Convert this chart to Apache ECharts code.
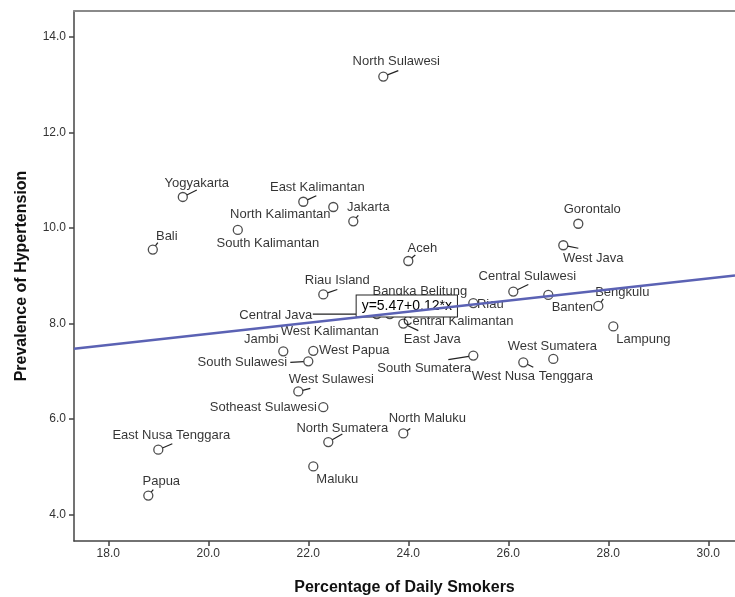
<!DOCTYPE html>
<html>
<head>
<meta charset="utf-8">
<script src="https://cdn.jsdelivr.net/npm/echarts@6/dist/echarts.min.js"></script>
<style>
html,body{margin:0;padding:0;background:#fff;}
#chart{width:735px;height:597px;}
</style>
</head>
<body>
<div id="chart"></div>
<script>
// ---- data ----
const provinces = ["Aceh","North Sumatera","West Sumatera","Riau","Jambi","South Sumatera","Bengkulu","Lampung","Bangka Belitung","Riau Island","Jakarta","West Java","Central Java","Yogyakarta","East Java","Banten","Bali","West Nusa Tenggara","East Nusa Tenggara","West Kalimantan","Central Kalimantan","South Kalimantan","East Kalimantan","North Kalimantan","North Sulawesi","Central Sulawesi","South Sulawesi","Sotheast Sulawesi","Gorontalo","West Sulawesi","Maluku","North Maluku","West Papua","Papua"];
const smokers = [24.00,22.40,26.90,25.30,21.50,25.30,27.80,28.10,24.43,22.30,22.90,27.10,23.37,19.49,23.90,26.80,18.89,26.30,19.00,23.63,23.80,20.59,21.90,22.50,23.50,26.10,22.00,22.30,27.40,21.80,22.10,23.90,22.10,18.80];
const hypertension = [9.31,5.52,7.26,8.43,7.42,7.33,8.37,7.94,8.37,8.61,10.14,9.64,8.20,10.65,8.00,8.60,9.55,7.19,5.36,8.20,8.27,9.96,10.55,10.44,13.17,8.67,7.21,6.25,10.09,6.58,5.01,5.70,7.43,4.40];
const fitCoef = [5.465, 0.116];           // intercept, slope of fit line
const fitText = "y=5.47+0.12*x";
const xTicks = [18,20,22,24,26,28,30];
const yTicks = [4,6,8,10,12,14];
const xRange = [17.314, 30.534];
const yRange = [3.449, 14.543];

// ---- label layout: pixel offset of label centre from point ----
const labelOffsets = [[14,-13],[14,-14],[-1,-13],[17,1],[-22,-12],[-49,13],[24,-13],[30,13],[-10,-14],[14,-14],[15,-14],[30,13],[-101,1],[14,-14],[29,16],[24,13],[14,-13],[9,14],[13,-14],[-60,17],[60,11],[30,13],[14,-14],[-53,7],[13,-15],[14,-15],[-66,1],[-60,0],[14,-14],[33,-12],[24,13],[24,-15],[41,0],[13,-14]];
// ---- leader line end (pixel offset from point), null = no leader ----
const leaderEnds = [[7,-6],[14,-8],null,null,null,[-25,4],[5,-7],null,null,[14,-5],[5,-6],[15,3],[-64,0],[14,-7],[15,7],null,[5,-7],[10,5],[14,-6],null,null,null,[13,-6],null,[15,-6],[15,-7],[-18,1],null,null,[12,-3],null,[7,-5],null,[5,-6]];

const FONT = "Liberation Sans, Arial, sans-serif";
const scatterData = provinces.map((n, i) => ({ name: n, value: [smokers[i], hypertension[i]] }));
const leaderData = provinces.map((n, i) => [smokers[i], hypertension[i], i]);
const R = 4.5;

const chart = echarts.init(document.getElementById('chart'), null, { renderer: 'canvas' });
chart.setOption({
  animation: false,
  backgroundColor: '#fff',
  grid: { left: 74, right: 0, top: 11, bottom: 56, show: false, containLabel: false, outerBoundsMode: 'none' },
  xAxis: [{
    type: 'value', min: xRange[0], max: xRange[1],
    name: 'Percentage of Daily Smokers', nameLocation: 'middle', nameGap: 39,
    nameTextStyle: { fontFamily: FONT, fontSize: 16, fontWeight: 'bold', color: '#111' },
    splitLine: { show: false },
    axisLine: { show: true, onZero: false, lineStyle: { color: '#444', width: 1.5 } },
    axisTick: { show: true, length: 5, lineStyle: { color: '#444', width: 1.5 }, customValues: xTicks },
    axisLabel: { fontFamily: FONT, fontSize: 12, color: '#333', margin: 7, customValues: xTicks, formatter: v => v.toFixed(1) }
  }, {
    type: 'value', position: 'top', min: xRange[0], max: xRange[1],
    axisLine: { show: true, onZero: false, lineStyle: { color: '#8a8a8a', width: 2 } },
    axisTick: { show: false }, axisLabel: { show: false }, splitLine: { show: false }
  }],
  yAxis: {
    type: 'value', min: yRange[0], max: yRange[1],
    name: 'Prevalence of Hypertension', nameLocation: 'middle', nameGap: 44, nameRotate: 90,
    nameTextStyle: { fontFamily: FONT, fontSize: 16, fontWeight: 'bold', color: '#111' },
    splitLine: { show: false },
    axisLine: { show: true, onZero: false, lineStyle: { color: '#444', width: 1.5 } },
    axisTick: { show: true, length: 5, lineStyle: { color: '#444', width: 1.5 }, customValues: yTicks },
    axisLabel: { fontFamily: FONT, fontSize: 12, color: '#333', margin: 8, customValues: yTicks, formatter: v => v.toFixed(1) }
  },
  series: [
    {
      type: 'custom', z: 3, silent: true,
      renderItem: function (params, api) {
        const i = api.value(2);
        const e = leaderEnds[i];
        if (!e) return null;
        const c = api.coord([api.value(0), api.value(1)]);
        const len = Math.hypot(e[0], e[1]);
        const ux = e[0] / len, uy = e[1] / len;
        return {
          type: 'line',
          shape: { x1: c[0] + ux * R, y1: c[1] + uy * R, x2: c[0] + e[0], y2: c[1] + e[1] },
          style: { stroke: '#222', lineWidth: 1.2 }
        };
      },
      data: leaderData
    },
    {
      type: 'scatter', z: 4,
      symbol: 'circle', symbolSize: 9,
      itemStyle: { color: '#fff', borderColor: '#222', borderWidth: 1.3 },
      label: {
        show: true, position: 'inside', align: 'center', verticalAlign: 'middle',
        formatter: '{b}', fontFamily: FONT, fontSize: 13, color: '#000',
        textBorderWidth: 0, textBorderColor: 'transparent'
      },
      labelLayout: function (p) {
        const o = labelOffsets[p.dataIndex];
        return { dx: o[0], dy: o[1], hideOverlap: false };
      },
      data: scatterData
    },
    {
      type: 'line', z: 10,
      symbol: 'none', silent: true,
      lineStyle: { color: '#5b62b4', width: 2.6 },
      data: [[xRange[0], fitCoef[0] + fitCoef[1] * xRange[0]], [xRange[1], fitCoef[0] + fitCoef[1] * xRange[1]]],
      markPoint: {
        symbol: 'rect', symbolSize: 0, silent: true,
        data: [{ coord: [23.97, 8.37], value: fitText }],
        label: {
          show: true, position: 'inside', formatter: fitText,
          fontFamily: FONT, fontSize: 14, color: '#000',
          textBorderWidth: 0, textBorderColor: 'transparent',
          backgroundColor: '#fff', borderColor: '#222', borderWidth: 1, padding: [4, 5, 3, 5]
        }
      }
    }
  ]
});
</script>
</body>
</html>
